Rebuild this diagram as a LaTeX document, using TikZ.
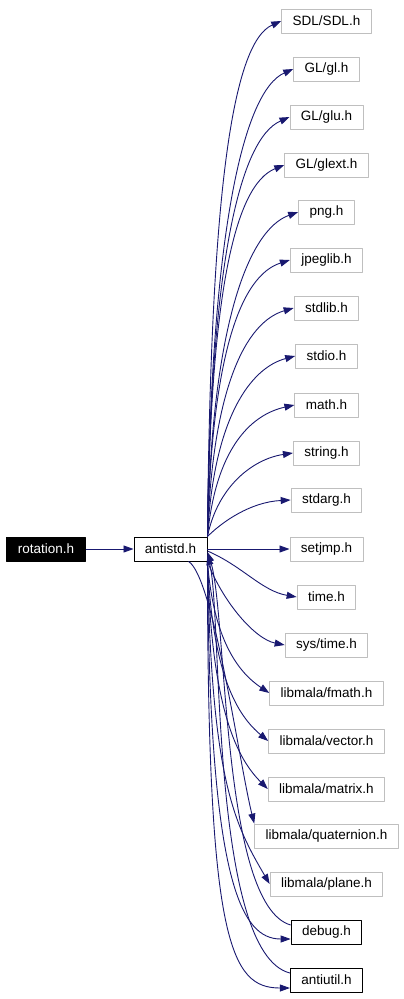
\documentclass[tikz,border=0pt]{standalone}
\usepackage{fontspec}
\setmainfont{Liberation Sans}
\usetikzlibrary{arrows.meta}
\definecolor{edgeblue}{HTML}{191970}
\definecolor{boxgray}{HTML}{BFBFBF}
\begin{document}
\begin{tikzpicture}[x=1pt,y=-1pt,font=\fontsize{13.5}{16}\selectfont,line join=round,
  file/.style={draw=boxgray,line width=0.9pt,minimum height=24pt,inner xsep=11pt,inner ysep=0pt},
  doc/.style={file,draw=black},
  edge/.style={draw=edgeblue,line width=0.9pt,-{Triangle[length=10pt,width=7pt]}}]
	\useasboundingbox (0,0) rectangle (404,999);
	% the two headers on the left
	\node[doc,fill=black,text=white] (rotation) at (46,549) {rotation.h};
	\node[doc] (antistd) at (170.5,549) {antistd.h};
	% included headers
	\node[file] (sdl) at (326.5,21) {SDL/SDL.h};
	\node[file] (gl) at (326.5,69) {GL/gl.h};
	\node[file] (glu) at (326.5,117) {GL/glu.h};
	\node[file] (glext) at (326.5,165) {GL/glext.h};
	\node[file] (png) at (326.5,212) {png.h};
	\node[file] (jpeglib) at (326.5,260) {jpeglib.h};
	\node[file] (stdlib) at (326.5,308) {stdlib.h};
	\node[file] (stdio) at (326.5,356) {stdio.h};
	\node[file] (math) at (326.5,405) {math.h};
	\node[file] (string) at (326.5,453) {string.h};
	\node[file] (stdarg) at (326.5,500) {stdarg.h};
	\node[file] (setjmp) at (326.5,549) {setjmp.h};
	\node[file] (time) at (326.5,597) {time.h};
	\node[file] (systime) at (326.5,645) {sys/time.h};
	\node[file] (fmath) at (326.5,693) {libmala/fmath.h};
	\node[file] (vector) at (326.5,741) {libmala/vector.h};
	\node[file] (matrix) at (326.5,789) {libmala/matrix.h};
	\node[file] (quat) at (326.5,836) {libmala/quaternion.h};
	\node[file] (plane) at (326.5,884) {libmala/plane.h};
	\node[doc] (debug) at (326.5,932) {debug.h};
	\node[doc] (antiutil) at (326.5,980) {antiutil.h};
	% edges
	\draw[edge] (rotation) -- (antistd);
	\draw[edge] (antistd.north east) .. controls +(3,-335) and +(-50,22) .. (sdl.west);
	\draw[edge] (antistd.north east) .. controls +(3,-304) and +(-50,22) .. (gl.west);
	\draw[edge] (antistd.north east) .. controls +(3,-273) and +(-50,22) .. (glu.west);
	\draw[edge] (antistd.north east) .. controls +(3,-242) and +(-50,20) .. (glext.west);
	\draw[edge] (antistd.north east) .. controls +(4,-211) and +(-50,18) .. (png.west);
	\draw[edge] (antistd.north east) .. controls +(4,-180) and +(-50,16) .. (jpeglib.west);
	\draw[edge] (antistd.north east) .. controls +(5,-149) and +(-48,14) .. (stdlib.west);
	\draw[edge] (antistd.north east) .. controls +(6,-118) and +(-45,12) .. (stdio.west);
	\draw[edge] (antistd.north east) .. controls +(8,-86) and +(-45,10) .. (math.west);
	\draw[edge] (antistd.north east) .. controls +(10,-50) and +(-40,6) .. (string.west);
	\draw[edge] (antistd.north east) .. controls +(15,-15) and +(-40,2) .. (stdarg.west);
	\draw[edge] (antistd) -- (setjmp);
	\draw[edge] ([yshift=-2pt]antistd.east) .. controls +(35,15) and +(-35,-6) .. (time.west);
	\draw[edge] (antistd.south east) .. controls +(15,40) and +(-30,-6) .. (systime.west);
	\draw[edge] (antistd.south east) .. controls +(6,80) and +(-30,-20) .. (fmath.west);
	\draw[edge] (antistd.south east) .. controls +(5,115) and +(-30,-25) .. (vector.west);
	\draw[edge] (antistd.south east) .. controls +(4,150) and +(-30,-30) .. (matrix.west);
	\draw[edge] ([xshift=18pt]antistd.south) .. controls +(25,15) and +(-15,-60) .. (quat.north west);
	\draw[edge] (antistd.south east) .. controls +(4,220) and +(-35,-60) .. (plane.west);
	\draw[edge] (antistd.south east) .. controls +(2,320) and +(-50,0) .. ([yshift=-7pt]debug.west);
	\draw[edge] (antistd.south east) .. controls +(0,380) and +(-60,0) .. ([yshift=-8pt]antiutil.west);
	\draw[edge] ([yshift=7pt]debug.west) .. controls +(-70,-20) and +(20,60) .. ([yshift=-3pt]antistd.east);
	\draw[edge] ([yshift=7pt]antiutil.west) .. controls +(-80,-20) and +(15,60) .. ([yshift=-6pt]antistd.east);
\end{tikzpicture}
\end{document}
